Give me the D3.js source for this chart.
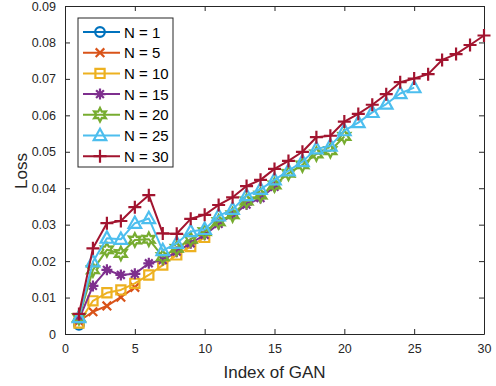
<!DOCTYPE html>
<html>
<head>
<meta charset="utf-8">
<script src="https://cdn.jsdelivr.net/npm/d3@7"></script>
<style>
  body { margin: 0; background: #fff; }
  svg { display: block; font-family: Arial, "Liberation Sans", sans-serif; }
</style>
</head>
<body>
<div class="canvas"></div>
<script>
// series values (x = 1..len)
const n1  = [0.0025];
const n5  = [0.0035, 0.0061, 0.0077, 0.0101, 0.0128];
const n10 = [0.0030, 0.0091, 0.0113, 0.0121, 0.0139, 0.0162, 0.0189, 0.0217, 0.0240, 0.0265];
const n15 = [0.0040, 0.0132, 0.0176, 0.0162, 0.0165, 0.0194, 0.0203, 0.0226, 0.0249, 0.0272,
             0.0302, 0.0327, 0.0355, 0.0373, 0.0404];
const n20 = [0.0045, 0.0176, 0.0231, 0.0221, 0.0258, 0.0260, 0.0212, 0.0235, 0.0260, 0.0281,
             0.0308, 0.0327, 0.0365, 0.0381, 0.0409, 0.0441, 0.0464, 0.0494, 0.0503, 0.0542];
const n25 = [0.0045, 0.0198, 0.0263, 0.0260, 0.0304, 0.0317, 0.0229, 0.0249, 0.0281, 0.0287,
             0.0324, 0.0342, 0.0380, 0.0397, 0.0423, 0.0448, 0.0473, 0.0508, 0.0516, 0.0558,
             0.0580, 0.0608, 0.0631, 0.0660, 0.0676];
const n30 = [0.0055, 0.0235, 0.0304, 0.0310, 0.0348, 0.0381, 0.0276, 0.0275, 0.0316, 0.0327,
             0.0354, 0.0375, 0.0406, 0.0423, 0.0453, 0.0475, 0.0500, 0.0540, 0.0544, 0.0583,
             0.0604, 0.0629, 0.0658, 0.0691, 0.0701, 0.0713, 0.0752, 0.0768, 0.0793, 0.0819];

const seriesNames = ['N = 1', 'N = 5', 'N = 10', 'N = 15', 'N = 20', 'N = 25', 'N = 30'];
const seriesVals = [n1, n5, n10, n15, n20, n25, n30];
const seriesColors = ['#0072BD', '#D95319', '#EDB120', '#7E2F8E', '#77AC30', '#4DBEEE', '#A2142F'];
const seriesMarkers = ['circle', 'x', 'square', 'asterisk', 'hexagram', 'triangle', 'plus'];

const xTicks = [0, 5, 10, 15, 20, 25, 30];
const yTicks = [0, 0.01, 0.02, 0.03, 0.04, 0.05, 0.06, 0.07, 0.08, 0.09];

const W = 496, H = 386;
const margin = {top: 6, right: 12, bottom: 52, left: 65};
const graphWidth = W - margin.left - margin.right;
const graphHeight = H - margin.top - margin.bottom;
const axisCol = '#262626';

const svg = d3.select('.canvas')
    .append('svg')
    .attr('width', W)
    .attr('height', H);

const graph = svg.append('g')
    .attr('transform', `translate(${margin.left}, ${margin.top})`);

// scales
const x = d3.scaleLinear().domain([0, 30]).range([0, graphWidth]);
const y = d3.scaleLinear().domain([0, 0.09]).range([graphHeight, 0]);

// marker paths, centred on 0,0
function markerPath(type) {
    const p = d3.path();
    if (type === 'circle') {
        p.arc(0, 0, 4.8, 0, 2 * Math.PI);
    } else if (type === 'square') {
        p.rect(-4.6, -4.6, 9.2, 9.2);
    } else if (type === 'triangle') {
        p.moveTo(0, -6.8); p.lineTo(6.3, 4.6); p.lineTo(-6.3, 4.6); p.closePath();
    } else if (type === 'x') {
        p.moveTo(-4.3, -4.3); p.lineTo(4.3, 4.3); p.moveTo(-4.3, 4.3); p.lineTo(4.3, -4.3);
    } else if (type === 'plus') {
        p.moveTo(-6.5, 0); p.lineTo(6.5, 0); p.moveTo(0, -6.5); p.lineTo(0, 6.5);
    } else if (type === 'asterisk') {
        p.moveTo(-5.5, 0); p.lineTo(5.5, 0); p.moveTo(0, -5.5); p.lineTo(0, 5.5);
        p.moveTo(-3.9, -3.9); p.lineTo(3.9, 3.9); p.moveTo(-3.9, 3.9); p.lineTo(3.9, -3.9);
    } else if (type === 'hexagram') {
        const ro = 6.8, ri = 3.6;
        for (let k = 0; k < 12; k++) {
            const a = -Math.PI / 2 + k * Math.PI / 6;
            const r = k % 2 === 0 ? ro : ri;
            if (k === 0) p.moveTo(r * Math.cos(a), r * Math.sin(a));
            else p.lineTo(r * Math.cos(a), r * Math.sin(a));
        }
        p.closePath();
    }
    return p.toString();
}

// axes (MATLAB style: inward ticks, box)
const xAxis = d3.axisBottom(x).tickValues(xTicks).tickSizeInner(-5).tickSizeOuter(0).tickPadding(10);
const yAxis = d3.axisLeft(y).tickValues(yTicks).tickSizeInner(-5).tickSizeOuter(0).tickPadding(9)
    .tickFormat(d => d === 0 ? '0' : d3.format('.2f')(d));
const xTop = d3.axisTop(x).tickValues(xTicks).tickSizeInner(-5).tickSizeOuter(0).tickFormat('');
const yRight = d3.axisRight(y).tickValues(yTicks).tickSizeInner(-5).tickSizeOuter(0).tickFormat('');

const gx = graph.append('g').attr('transform', `translate(0, ${graphHeight})`).call(xAxis);
const gy = graph.append('g').call(yAxis);
const gt = graph.append('g').call(xTop);
const gr = graph.append('g').attr('transform', `translate(${graphWidth}, 0)`).call(yRight);

[gx, gy, gt, gr].forEach(g => {
    g.selectAll('path.domain').attr('stroke', axisCol).attr('stroke-width', 1);
    g.selectAll('.tick line').attr('stroke', axisCol).attr('stroke-width', 1);
    g.selectAll('.tick text').attr('fill', axisCol).style('font-size', '12.5px')
        .style('font-family', 'Arial, "Liberation Sans", sans-serif');
});

// lines + markers
const line = d3.line().x((d, i) => x(i + 1)).y(d => y(d));

seriesVals.forEach((vals, s) => {
    const col = seriesColors[s];
    graph.append('path')
        .datum(vals)
        .attr('d', line)
        .attr('fill', 'none')
        .attr('stroke', col)
        .attr('stroke-width', 2)
        .attr('stroke-linejoin', 'round');

    graph.selectAll('.m' + s)
        .data(vals)
        .enter()
        .append('path')
        .attr('class', 'm' + s)
        .attr('transform', (d, i) => `translate(${x(i + 1)}, ${y(d)})`)
        .attr('d', markerPath(seriesMarkers[s]))
        .attr('fill', 'none')
        .attr('stroke', col)
        .attr('stroke-width', 2.2);
});

// axis labels
svg.append('text')
    .attr('x', margin.left + graphWidth / 2)
    .attr('y', 378)
    .attr('text-anchor', 'middle')
    .attr('fill', axisCol)
    .style('font-size', '17px')
    .text('Index of GAN');

svg.append('text')
    .attr('transform', `translate(27, 171) rotate(-90)`)
    .attr('text-anchor', 'middle')
    .attr('fill', axisCol)
    .style('font-size', '17px')
    .text('Loss');

// legend
const legend = svg.append('g').attr('transform', 'translate(78, 18)');
legend.append('rect')
    .attr('width', 95)
    .attr('height', 149)
    .attr('fill', '#fff')
    .attr('stroke', axisCol)
    .attr('stroke-width', 1);

seriesNames.forEach((name, s) => {
    const ly = 14 + s * 20.7;
    const row = legend.append('g').attr('transform', `translate(0, ${ly})`);
    row.append('line')
        .attr('x1', 5).attr('x2', 42)
        .attr('stroke', seriesColors[s])
        .attr('stroke-width', 2);
    row.append('path')
        .attr('transform', 'translate(22, 0)')
        .attr('d', markerPath(seriesMarkers[s]))
        .attr('fill', 'none')
        .attr('stroke', seriesColors[s])
        .attr('stroke-width', 2.2);
    row.append('text')
        .attr('x', 46)
        .attr('y', 5.5)
        .attr('fill', '#000')
        .style('font-size', '15px')
        .text(name);
});
</script>
</body>
</html>
